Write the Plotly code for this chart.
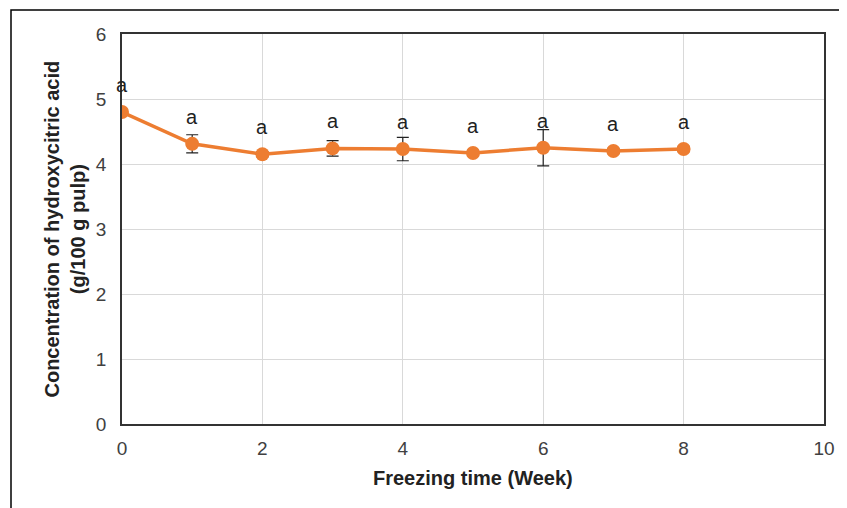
import plotly.graph_objects as go

weeks = [0, 1, 2, 3, 4, 5, 6, 7, 8]
hca = [4.80, 4.31, 4.15, 4.24, 4.23, 4.17, 4.25, 4.20, 4.23]
sd = [0.04, 0.14, 0.04, 0.12, 0.18, 0.04, 0.28, 0.04, 0.04]
letters = ["a", "a", "a", "a", "a", "a", "a", "a", "a"]

x_title = "Freezing time (Week)"
y_title = "Concentration of hydroxycitric acid<br>(g/100 g pulp)"

FONT = "Liberation Sans, Arial, sans-serif"
ORANGE = "#ED7D31"

fig = go.Figure()
fig.add_trace(go.Scatter(
    x=weeks, y=hca, mode="lines+markers",
    line=dict(color=ORANGE, width=3.5),
    marker=dict(color=ORANGE, size=14),
    error_y=dict(type="data", array=sd, visible=True, color="#222222",
                 thickness=1.2, width=6),
    showlegend=False, hoverinfo="skip",
))

for xv, yv, t in zip(weeks, hca, letters):
    fig.add_annotation(x=xv, y=yv, text=t, showarrow=False, yshift=27,
                       xanchor="center", yanchor="middle",
                       font=dict(family=FONT, size=20, color="#222222"))

fig.add_annotation(xref="paper", yref="paper", x=-0.0819, y=0.5,
                   text="<b>" + y_title + "</b>", textangle=-90, showarrow=False,
                   xanchor="center", yanchor="middle",
                   font=dict(family=FONT, size=20, color="#222222"))
fig.add_annotation(xref="paper", yref="paper", x=0.5, y=-0.138,
                   text="<b>" + x_title + "</b>", showarrow=False,
                   xanchor="center", yanchor="middle",
                   font=dict(family=FONT, size=20, color="#222222"))

# outer frame (left and top edges visible)
fig.add_shape(type="rect", xref="paper", yref="paper",
              x0=(11 - 122) / 702, x1=1.2, y0=-0.5, y1=(424 - 10) / 390,
              line=dict(color="#000000", width=1.5), layer="below")

fig.update_xaxes(range=[0, 10], dtick=2, tick0=0, showgrid=True,
                 gridcolor="#d9d9d9", gridwidth=1, zeroline=False,
                 showline=True, mirror=True, linecolor="#333333", linewidth=1.5,
                 ticks="", ticklabelstandoff=6,
                 tickfont=dict(family=FONT, size=19, color="#404040"))
fig.update_yaxes(range=[0, 6], dtick=1, tick0=0, showgrid=True,
                 gridcolor="#d9d9d9", gridwidth=1, zeroline=False,
                 showline=True, mirror=True, linecolor="#333333", linewidth=1.5,
                 ticks="", ticklabelstandoff=10,
                 tickfont=dict(family=FONT, size=19, color="#404040"))

fig.update_layout(width=839, height=500,
                  margin=dict(l=114, r=23, t=26, b=84, autoexpand=False),
                  paper_bgcolor="white", plot_bgcolor="white")

fig.write_html("out.html")
